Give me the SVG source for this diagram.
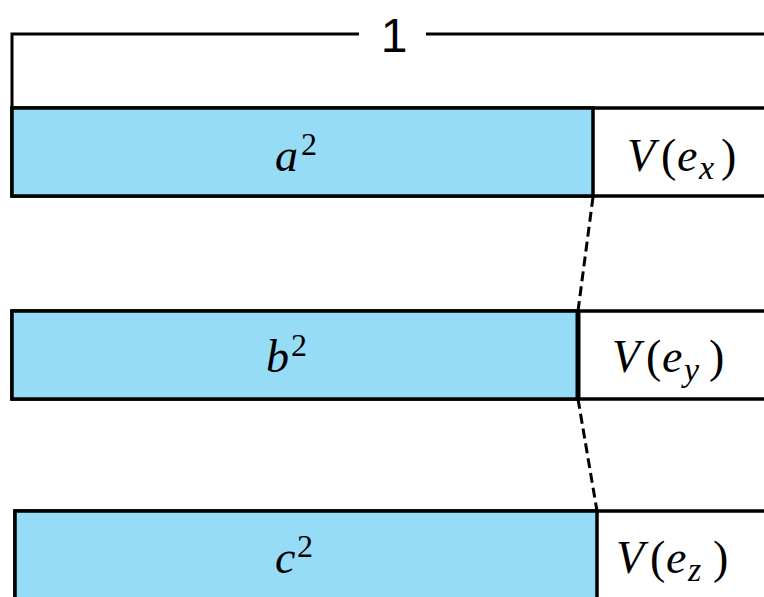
<svg xmlns="http://www.w3.org/2000/svg" width="764" height="597" viewBox="0 0 764 597">
<style>
.box{fill:#fff;stroke:#000;stroke-width:3.5}
.blue{fill:#97dcf7;stroke:#000;stroke-width:3.5}
.math{font-family:"Liberation Serif","DejaVu Serif",serif;font-style:italic;font-size:46px;fill:#000}
.up{font-style:normal}
.sup{font-size:32px;font-style:normal}
.sub{font-size:34px}
.conn{stroke:#000;stroke-width:3;stroke-dasharray:10 5;fill:none}
</style>
<rect width="764" height="597" fill="#fff"/>
<g id="bracket">
<polyline points="12,108 12,34 359,34" fill="none" stroke="#000" stroke-width="3"/>
<line x1="426" y1="34" x2="766" y2="34" stroke="#000" stroke-width="3"/>
<text x="394" y="52" text-anchor="middle" font-family="Liberation Sans, Arial, sans-serif" font-size="48">1</text>
</g>
<g id="row1">
<rect class="box" x="12" y="108" width="760" height="88"/>
<rect class="blue" x="12" y="108" width="581" height="88"/>
<text class="math"><tspan x="275" y="171">a</tspan><tspan class="sup" x="301" y="155">2</tspan></text>
<text class="math"><tspan x="627" y="171">V</tspan><tspan class="up" x="661" y="171">(</tspan><tspan x="677" y="171">e</tspan><tspan class="sub" x="699" y="179">x</tspan><tspan class="up" x="721" y="171">)</tspan></text>
</g>
<g id="row2">
<rect class="box" x="12" y="311" width="760" height="88"/>
<rect class="blue" x="12" y="311" width="566" height="88"/>
<line x1="578" y1="311" x2="578" y2="399" stroke="#000" stroke-width="5"/>
<text class="math"><tspan x="266" y="372">b</tspan><tspan class="sup" x="291" y="356">2</tspan></text>
<text class="math"><tspan x="612" y="372">V</tspan><tspan class="up" x="646" y="372">(</tspan><tspan x="662" y="372">e</tspan><tspan class="sub" x="684" y="381">y</tspan><tspan class="up" x="709" y="372">)</tspan></text>
</g>
<g id="row3">
<rect class="box" x="15" y="511" width="760" height="100"/>
<rect class="blue" x="15" y="511" width="582" height="100"/>
<text class="math"><tspan x="275" y="573">c</tspan><tspan class="sup" x="297" y="557">2</tspan></text>
<text class="math"><tspan x="616" y="573">V</tspan><tspan class="up" x="650" y="573">(</tspan><tspan x="666" y="573">e</tspan><tspan class="sub" x="688" y="581">z</tspan><tspan class="up" x="713" y="573">)</tspan></text>
</g>
<g id="connectors">
<line class="conn" x1="593" y1="197" x2="578" y2="311"/>
<line class="conn" x1="578" y1="399" x2="597" y2="511"/>
</g>
</svg>
